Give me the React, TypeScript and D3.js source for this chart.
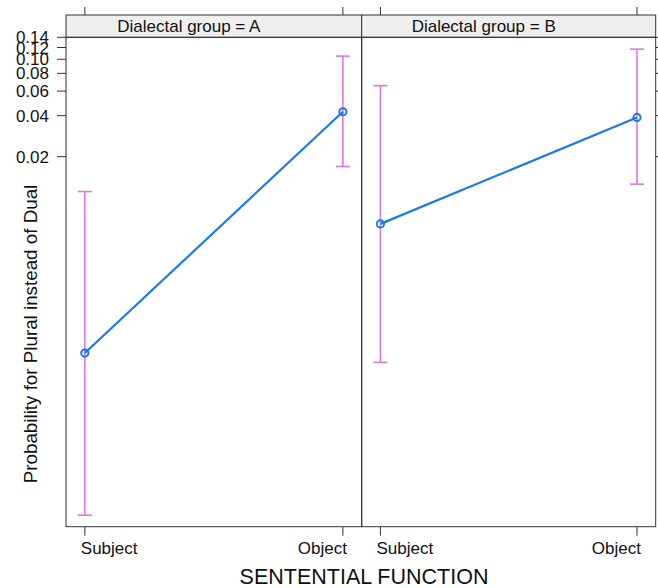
import React from "react";
import { scaleLinear, scalePoint, line } from "d3";

// effect estimates on probability scale
const categories = ["Subject", "Object"];
const groups = ["A", "B"];
const fitA = [0.00067, 0.0427];
const lowerA = [0.00004, 0.0169];
const upperA = [0.011, 0.105];
const fitB = [0.0063, 0.0388];
const lowerB = [0.00057, 0.0125];
const upperB = [0.0656, 0.117];
const yTicks = [0.02, 0.04, 0.06, 0.08, 0.1, 0.12, 0.14];
const yTickLabels = ["0.02", "0.04", "0.06", "0.08", "0.10", "0.12", "0.14"];
const yLimits = [0.0000327, 0.14];

const width = 658;
const height = 588;
const font = "'Liberation Sans', Arial, sans-serif";
const lineCol = "#1a7ae6";
const barCol = "#dd77e0";
const frame = "#333";

const logit = (p: number) => Math.log(p / (1 - p));

const panelTop = 37.3;
const panelBottom = 526.7;
const stripTop = 15;
const panelEdges = [66, 361.7, 655.7];

const yScale = scaleLinear()
  .domain(yLimits.map(logit))
  .range([panelBottom, panelTop]);

const panels = [
  { group: groups[0], fit: fitA, lower: lowerA, upper: upperA },
  { group: groups[1], fit: fitB, lower: lowerB, upper: upperB },
];

export default function App() {
  return (
    <svg
      width={width}
      height={height}
      style={{ position: "absolute", left: 0, top: 0, background: "#fff" }}
      fontFamily={font}
    >
      {panels.map((p, i) => {
        const x0 = panelEdges[i];
        const x1 = panelEdges[i + 1];
        const xScale = scalePoint<string>()
          .domain(categories)
          .range([x0, x1])
          .padding(0.073);
        const pts = categories.map((c, j) => [xScale(c) as number, yScale(logit(p.fit[j]))] as [number, number]);
        const path = line()(pts) || "";
        return (
          <g key={p.group}>
            {/* strip */}
            <rect x={x0} y={stripTop} width={x1 - x0} height={panelTop - stripTop} fill="#efefef" stroke={frame} strokeWidth={1} />
            <text x={(x0 + x1) / 2 - 25} y={32} fontSize={17} textAnchor="middle" fill="#111">
              {`Dialectal group = ${p.group}`}
            </text>
            {/* panel box */}
            <rect x={x0} y={panelTop} width={x1 - x0} height={panelBottom - panelTop} fill="none" stroke={frame} strokeWidth={1} />
            {/* error bars */}
            {categories.map((c, j) => {
              const x = xScale(c) as number;
              const yl = yScale(logit(p.lower[j]));
              const yu = yScale(logit(p.upper[j]));
              return (
                <g key={c} stroke={barCol} strokeWidth={1.6}>
                  <line x1={x} x2={x} y1={yl} y2={yu} />
                  <line x1={x - 7} x2={x + 7} y1={yl} y2={yl} />
                  <line x1={x - 7} x2={x + 7} y1={yu} y2={yu} />
                </g>
              );
            })}
            <path d={path} fill="none" stroke={lineCol} strokeWidth={2.2} />
            {pts.map((d, j) => (
              <circle key={j} cx={d[0]} cy={d[1]} r={3.6} fill="none" stroke={lineCol} strokeWidth={2} />
            ))}
            {/* x ticks top and bottom */}
            {categories.map((c, j) => {
              const x = xScale(c) as number;
              return (
                <g key={c}>
                  <line x1={x} x2={x} y1={7} y2={stripTop} stroke={frame} />
                  <line x1={x} x2={x} y1={panelBottom} y2={panelBottom + 9} stroke={frame} />
                  <text
                    x={j === 0 ? x - 4 : x + 4}
                    y={554}
                    fontSize={17}
                    textAnchor={j === 0 ? "start" : "end"}
                    fill="#111"
                  >
                    {c}
                  </text>
                </g>
              );
            })}
          </g>
        );
      })}
      {/* y axis ticks */}
      {yTicks.map((t, k) => {
        const y = yScale(logit(t));
        return (
          <g key={t}>
            <line x1={57} x2={panelEdges[0]} y1={y} y2={y} stroke={frame} />
            <line x1={panelEdges[2]} x2={panelEdges[2] + 9} y1={y} y2={y} stroke={frame} />
            <text x={49} y={y} dy="0.36em" fontSize={17} textAnchor="end" fill="#111">
              {yTickLabels[k]}
            </text>
          </g>
        );
      })}
      <text x={364} y={584} fontSize={21.5} textAnchor="middle" fill="#111">
        SENTENTIAL FUNCTION
      </text>
      <text
        transform={`translate(37,334) rotate(-90)`}
        fontSize={18.8}
        textAnchor="middle"
        fill="#111"
      >
        Probability for Plural instead of Dual
      </text>
    </svg>
  );
}
